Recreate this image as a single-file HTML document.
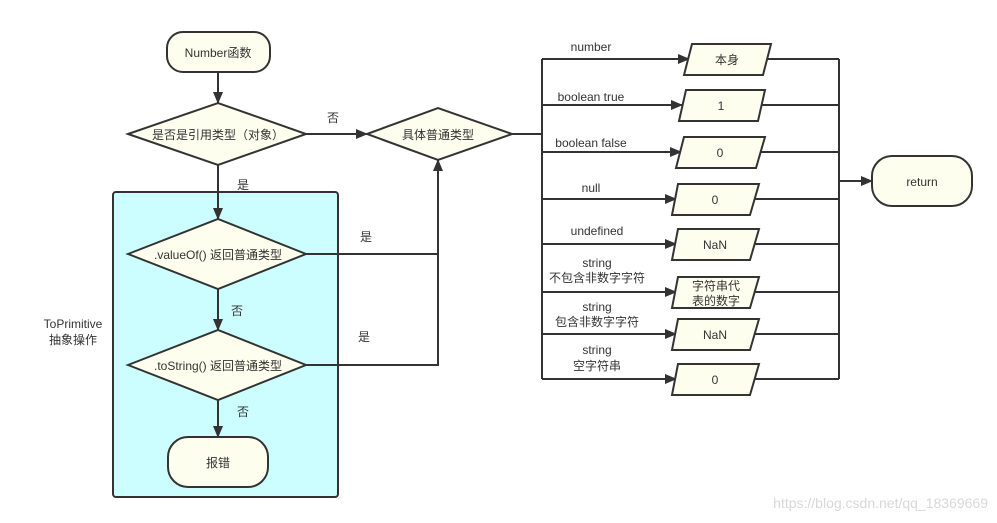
<!DOCTYPE html>
<html><head><meta charset="utf-8"><style>
html,body{margin:0;padding:0;background:#fff;}
svg{display:block;font-family:"Liberation Sans","Noto Sans CJK SC",sans-serif;}
</style></head><body>
<svg width="997" height="523" viewBox="0 0 997 523">
<defs><marker id="a" markerWidth="12" markerHeight="10" refX="11" refY="5" orient="auto" markerUnits="userSpaceOnUse"><path d="M0,0 L12,5 L0,10 Z" fill="#333"/></marker></defs>
<rect x="113" y="192" width="225" height="305" rx="3" fill="#ccfeff" stroke="#333" stroke-width="2"/>
<g stroke="#333" stroke-width="2" fill="none">
<line x1="218" y1="72" x2="218" y2="103" marker-end="url(#a)"/>
<line x1="218" y1="165" x2="218" y2="219" marker-end="url(#a)"/>
<line x1="218" y1="289" x2="218" y2="330" marker-end="url(#a)"/>
<line x1="218" y1="400" x2="218" y2="437" marker-end="url(#a)"/>
<line x1="306" y1="134" x2="367" y2="134" marker-end="url(#a)"/>
<polyline points="306,254 438,254"/>
<polyline points="306,365 438,365 438,160" marker-end="url(#a)"/>
<polyline points="512,134 542,134"/>
<line x1="542" y1="59" x2="542" y2="379"/>
<line x1="839" y1="59" x2="839" y2="379"/>
<line x1="839" y1="181" x2="872" y2="181" marker-end="url(#a)"/>
<line x1="542" y1="59" x2="689" y2="59" marker-end="url(#a)"/>
<line x1="542" y1="105" x2="682" y2="105" marker-end="url(#a)"/>
<line x1="542" y1="152" x2="681" y2="152" marker-end="url(#a)"/>
<line x1="542" y1="199" x2="676" y2="199" marker-end="url(#a)"/>
<line x1="542" y1="244" x2="676" y2="244" marker-end="url(#a)"/>
<line x1="542" y1="292" x2="676" y2="292" marker-end="url(#a)"/>
<line x1="542" y1="334" x2="676" y2="334" marker-end="url(#a)"/>
<line x1="542" y1="379" x2="676" y2="379" marker-end="url(#a)"/>
<line x1="767" y1="59" x2="839" y2="59"/>
<line x1="761" y1="105" x2="839" y2="105"/>
<line x1="760" y1="152" x2="839" y2="152"/>
<line x1="754" y1="199" x2="839" y2="199"/>
<line x1="754" y1="244" x2="839" y2="244"/>
<line x1="754" y1="292" x2="839" y2="292"/>
<line x1="754" y1="334" x2="839" y2="334"/>
<line x1="754" y1="379" x2="839" y2="379"/>
</g>
<g stroke="#333" stroke-width="2" fill="#fefeee">
<rect x="167" y="32" width="103" height="40" rx="16"/>
<polygon points="128,134 218,103 306,134 218,165"/>
<polygon points="367,134 438,108 512,134 438,160"/>
<polygon points="128,254 218,219 306,254 218,289"/>
<polygon points="128,365 218,330 306,365 218,400"/>
<rect x="168" y="437" width="100" height="50" rx="20"/>
<rect x="872" y="156" width="100" height="50" rx="20"/>
<polygon points="692,44 771,44 763,75 684,75"/>
<polygon points="686,90 765,90 758,121 679,121"/>
<polygon points="684,137 765,137 756,168 676,168"/>
<polygon points="678,184 759,184 750,215 672,215"/>
<polygon points="678,229 759,229 750,260 672,260"/>
<polygon points="678,277 759,277 750,308 672,308"/>
<polygon points="678,319 759,319 750,350 672,350"/>
<polygon points="678,364 759,364 750,395 672,395"/>
</g>
<g font-size="12" fill="#333" text-anchor="middle">
<text x="218" y="57">Number函数</text>
<text x="218" y="139">是否是引用类型（对象）</text>
<text x="438" y="139">具体普通类型</text>
<text x="218" y="259">.valueOf() 返回普通类型</text>
<text x="218" y="370">.toString() 返回普通类型</text>
<text x="218" y="467">报错</text>
<text x="922" y="186">return</text>
<text x="727" y="64">本身</text>
<text x="721" y="110">1</text>
<text x="720" y="157">0</text>
<text x="715" y="204">0</text>
<text x="715" y="249">NaN</text>
<text x="716" y="290">字符串代</text>
<text x="716" y="305">表的数字</text>
<text x="715" y="339">NaN</text>
<text x="715" y="384">0</text>
<text x="333" y="122">否</text>
<text x="243" y="189">是</text>
<text x="366" y="241">是</text>
<text x="237" y="315">否</text>
<text x="364" y="341">是</text>
<text x="243" y="416">否</text>
<text x="73" y="328">ToPrimitive</text>
<text x="73" y="344">抽象操作</text>
<text x="591" y="51">number</text>
<text x="591" y="101">boolean true</text>
<text x="591" y="147">boolean false</text>
<text x="591" y="192">null</text>
<text x="597" y="235">undefined</text>
<text x="597" y="267">string</text>
<text x="597" y="282">不包含非数字字符</text>
<text x="597" y="311">string</text>
<text x="597" y="326">包含非数字字符</text>
<text x="597" y="354">string</text>
<text x="597" y="370">空字符串</text>
</g>
<text x="988" y="508" font-size="14" fill="#d8d8d8" text-anchor="end">https://blog.csdn.net/qq_18369669</text>
</svg>
</body></html>
